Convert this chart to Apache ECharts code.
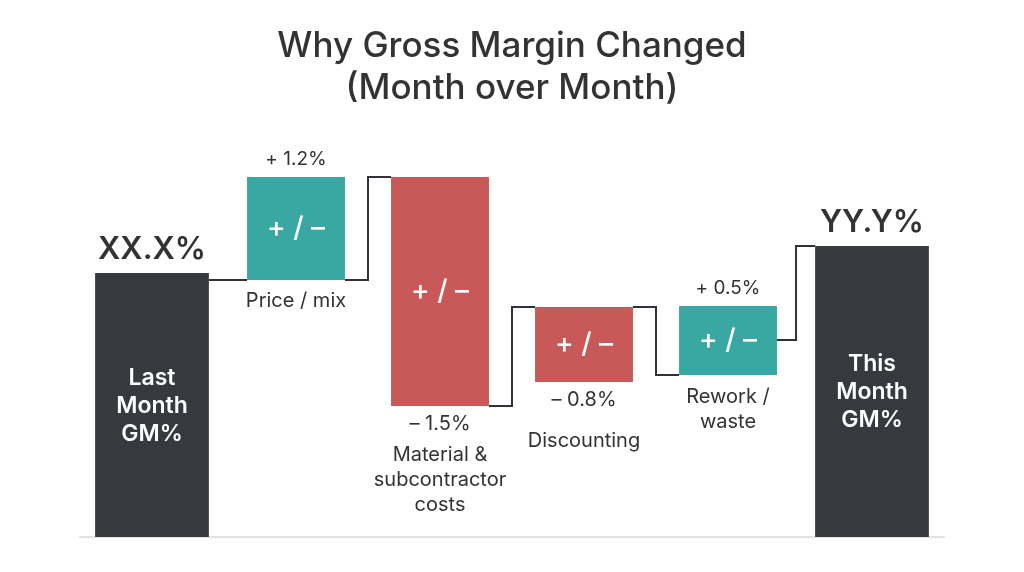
<!DOCTYPE html>
<html>
<head>
<meta charset="utf-8">
<script src="https://cdn.jsdelivr.net/npm/echarts@6/dist/echarts.min.js"></script>
<style>
html,body{margin:0;padding:0;background:#ffffff;}
#chart{width:1024px;height:572px;}
</style>
</head>
<body>
<div id="chart"></div>
<script>
// ---- data (display units; 0 = baseline) ----
const categories = ['Last Month GM%', 'Price / mix', 'Material & subcontractor costs', 'Discounting', 'Rework / waste', 'This Month GM%'];
const displayNames = ['Last\nMonth\nGM%', 'Price / mix', 'Material &\nsubcontractor\ncosts', 'Discounting', 'Rework /\nwaste', 'This\nMonth\nGM%'];
const barKind = ['total', 'up', 'down', 'down', 'up', 'total'];
const barLow = [0, 64.25, 32.75, 38.75, 40.5, 0];
const barHigh = [66, 90, 90, 57.5, 57.75, 72.75];
const valueLabels = ['XX.X%', '+ 1.2%', '\u2013 1.5%', '\u2013 0.8%', '+ 0.5%', 'YY.Y%'];
const changeText = '+ / \u2013';
// connector levels between bar i and bar i+1
const connFrom = [64.25, 64.25, 32.75, 57.5, 49.25];
const connTo = [64.25, 90, 57.5, 40.5, 72.75];

// ---- styling ----
const FONT = 'Inter, "Noto Sans", sans-serif';
const colors = { total: '#36393e', up: '#3aa8a2', down: '#c95858' };
const widthFrac = { total: 0.79, down: 0.68, up: 0.68 };
const nameGap = [0, 21, 31, 41, 22, 0];
const TEXT = '#333333';

const barData = categories.map((c, i) => [i, barLow[i], barHigh[i]]);
const connData = connFrom.map((v, i) => [i, v, connTo[i]]);

function renderBar(params, api) {
  const i = api.value(0);
  const lo = api.value(1), hi = api.value(2);
  const kind = barKind[i];
  const band = api.size([1, 0])[0];
  const w = band * widthFrac[kind];
  const pLo = api.coord([i, lo]);
  const pHi = api.coord([i, hi]);
  const cx = pLo[0];
  const top = pHi[1], bottom = pLo[1];
  const children = [{
    type: 'rect',
    shape: { x: cx - w / 2, y: top, width: w, height: bottom - top },
    style: { fill: colors[kind] }
  }];
  if (kind === 'total') {
    children.push({
      type: 'text',
      style: { text: valueLabels[i], x: cx, y: top - 23, align: 'center', verticalAlign: 'middle',
        fontSize: 31, fontWeight: 600, fill: TEXT, fontFamily: FONT }
    });
    children.push({
      type: 'text',
      style: { text: displayNames[i], x: cx, y: (top + bottom) / 2 + 1, align: 'center', verticalAlign: 'middle',
        fontSize: 23, fontWeight: 600, lineHeight: 28, fill: '#ffffff', fontFamily: FONT }
    });
  } else {
    children.push({
      type: 'text',
      style: { text: changeText, x: cx, y: (top + bottom) / 2, align: 'center', verticalAlign: 'middle',
        fontSize: 28, fontWeight: 500, fill: '#ffffff', fontFamily: FONT }
    });
    let nameY;
    if (kind === 'up') {
      children.push({
        type: 'text',
        style: { text: valueLabels[i], x: cx, y: top - 18, align: 'center', verticalAlign: 'middle',
          fontSize: 19, fontWeight: 400, fill: TEXT, fontFamily: FONT }
      });
      nameY = bottom + nameGap[i];
    } else {
      children.push({
        type: 'text',
        style: { text: valueLabels[i], x: cx, y: bottom + 18, align: 'center', verticalAlign: 'middle',
          fontSize: 20, fontWeight: 400, fill: TEXT, fontFamily: FONT }
      });
      nameY = bottom + 18 + nameGap[i];
    }
    children.push({
      type: 'text',
      style: { text: displayNames[i], x: cx, y: nameY - 12.5, align: 'center', verticalAlign: 'top',
        fontSize: 20, fontWeight: 400, lineHeight: 25, fill: TEXT, fontFamily: FONT }
    });
  }
  return { type: 'group', children };
}

function renderConn(params, api) {
  const i = api.value(0);
  const from = api.value(1), to = api.value(2);
  const band = api.size([1, 0])[0];
  const a = api.coord([i, from]);
  const b = api.coord([i + 1, to]);
  const x1 = a[0] + band * widthFrac[barKind[i]] / 2;
  const x2 = b[0] - band * widthFrac[barKind[i + 1]] / 2;
  const xm = (x1 + x2) / 2;
  const pts = from === to ? [[x1, a[1]], [x2, b[1]]] : [[x1, a[1]], [xm, a[1]], [xm, b[1]], [x2, b[1]]];
  return {
    type: 'polyline',
    shape: { points: pts },
    style: { stroke: '#2f3236', lineWidth: 2, fill: null },
    z2: -1
  };
}

const chart = echarts.init(document.getElementById('chart'));
chart.setOption({
  backgroundColor: '#ffffff',
  animation: false,
  title: {
    text: 'Why Gross Margin Changed\n(Month over Month)',
    left: 'center',
    top: 25,
    padding: 0,
    textStyle: { fontSize: 35, fontWeight: 500, lineHeight: 42, color: '#333333', fontFamily: FONT }
  },
  grid: { left: 80, right: 80, top: 137, bottom: 35 },
  xAxis: {
    type: 'category',
    data: categories,
    axisLine: { show: true, lineStyle: { color: '#e2e2e2', width: 2 } },
    axisTick: { show: false },
    axisLabel: { show: false },
    splitLine: { show: false }
  },
  yAxis: {
    type: 'value',
    min: 0,
    max: 100,
    show: false,
    splitLine: { show: false }
  },
  series: [
    {
      type: 'custom',
      name: 'connectors',
      renderItem: renderConn,
      data: connData,
      z: 1,
      silent: true
    },
    {
      type: 'custom',
      name: 'bars',
      renderItem: renderBar,
      data: barData,
      z: 2
    }
  ]
});
</script>
</body>
</html>
